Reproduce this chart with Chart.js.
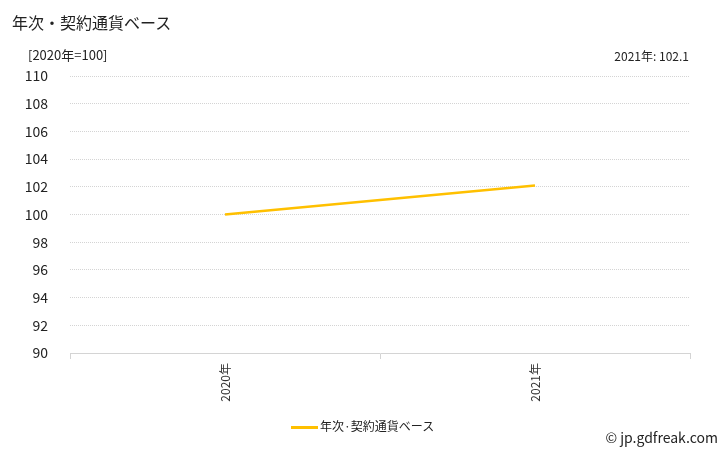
<!DOCTYPE html>
<html>
<head>
<meta charset="utf-8">
<script src="https://cdn.jsdelivr.net/npm/chart.js@4/dist/chart.umd.min.js"></script>
<style>
  html, body { margin:0; padding:0; background:#fff; }
  #wrap { position:relative; width:728px; height:450px; font-family:'Noto Sans CJK JP','Noto Sans',sans-serif; color:#222; }
  #chart { position:absolute; left:0; top:0; }
  .txt { position:absolute; white-space:nowrap; line-height:1; }
</style>
</head>
<body>
<div id="wrap">
  <canvas id="chart" width="728" height="450"></canvas>
  <div class="txt" style="left:12px;top:14px;font-size:16px;">年次・契約通貨ベース</div>
  <div class="txt" style="left:28px;top:48px;font-size:13px;">[2020年=100]</div>
  <div class="txt" style="right:39px;top:50px;font-size:12px;">2021年: 102.1</div>
  <div class="txt" style="left:291px;top:420px;font-size:12px;">
    <span style="display:inline-block;width:27px;height:3px;background:#FFC000;vertical-align:middle;margin-right:2px;"></span>年次·契約通貨ベース
  </div>
  <div class="txt" style="right:10px;top:430px;font-size:14px;">© jp.gdfreak.com</div>
</div>
<script>
// ---- data ----
var categories = ['2020年', '2021年'];
var values = [100, 102.1];
var yMin = 90, yMax = 110, yStep = 2;

var ctx = document.getElementById('chart');
new Chart(ctx, {
  type: 'line',
  data: {
    labels: categories,
    datasets: [{
      label: '年次·契約通貨ベース',
      data: values,
      borderColor: '#FFC000',
      backgroundColor: '#FFC000',
      borderWidth: 2.5,
      pointRadius: 0,
      tension: 0
    }]
  },
  options: {
    responsive: false,
    animation: false,
    layout: { padding: { top: 76, right: 38, bottom: 30, left: 0 } },
    plugins: { legend: { display: false }, tooltip: { enabled: false } },
    scales: {
      x: {
        offset: true,
        grid: { offset: true, drawOnChartArea: false, drawTicks: true, tickLength: 6, color: '#d4d4d4' },
        border: { display: true, color: '#d4d4d4' },
        ticks: {
          minRotation: 90, maxRotation: 90, padding: 4,
          color: '#333', font: { family: "'Noto Sans CJK JP', sans-serif", size: 12 }
        },
        afterFit: function(s) { s.height = 67; }
      },
      y: {
        min: yMin, max: yMax,
        grid: {
          drawTicks: false,
          color: function(c) { return c.tick.value === yMin ? 'rgba(0,0,0,0)' : '#d4d4d4'; }
        },
        border: { display: false, dash: [1, 1] },
        ticks: {
          stepSize: yStep, padding: 22,
          color: '#222', font: { family: "'Noto Sans CJK JP', sans-serif", size: 14 }
        },
        afterFit: function(s) { s.width = 70; }
      }
    }
  }
});
</script>
</body>
</html>
